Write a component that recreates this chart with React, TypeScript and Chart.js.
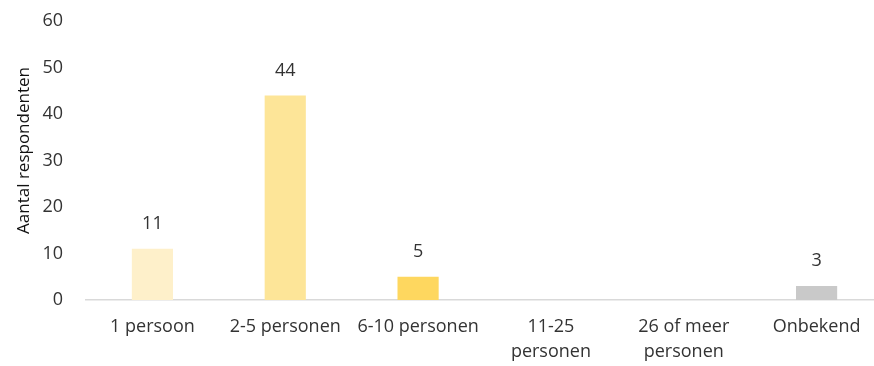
import React, { useEffect, useRef } from "react";
import { Chart, registerables } from "chart.js";

Chart.register(...registerables);

const categories: (string | string[])[] = [
  "1 persoon",
  "2-5 personen",
  "6-10 personen",
  ["11-25", "personen"],
  ["26 of meer", "personen"],
  "Onbekend",
];
const values = [11, 44, 5, 0, 0, 3];
const barColors = ["#FEF0CA", "#FDE598", "#FED75F", "#FED75F", "#FED75F", "#C9C9C9"];
const yTitle = "Aantal respondenten";
const yMin = 0;
const yMax = 60;
const yStep = 10;

const FONT = "'Open Sans', 'DejaVu Sans', sans-serif";
const TEXT = "#333333";

const valueLabels = {
  id: "valueLabels",
  afterDatasetsDraw(chart: any) {
    const ctx = chart.ctx;
    const meta = chart.getDatasetMeta(0);
    ctx.save();
    ctx.font = `18px ${FONT}`;
    ctx.fillStyle = TEXT;
    ctx.textAlign = "center";
    ctx.textBaseline = "middle";
    meta.data.forEach((bar: any, i: number) => {
      const v = values[i];
      if (!v) return;
      ctx.fillText(String(v), bar.x, bar.y - 25);
    });
    ctx.restore();
  },
};

const axisTitle = {
  id: "axisTitle",
  afterDraw(chart: any) {
    const ctx = chart.ctx;
    const area = chart.chartArea;
    ctx.save();
    ctx.font = `17px ${FONT}`;
    ctx.fillStyle = "#111111";
    ctx.textAlign = "center";
    ctx.textBaseline = "middle";
    ctx.translate(24, (area.top + area.bottom) / 2 - 10);
    ctx.rotate(-Math.PI / 2);
    ctx.fillText(yTitle, 0, 0);
    ctx.restore();
  },
};

export default function App() {
  const ref = useRef<HTMLCanvasElement | null>(null);
  useEffect(() => {
    if (!ref.current) return;
    const chart = new Chart(ref.current, {
      type: "bar",
      data: {
        labels: categories,
        datasets: [
          {
            data: values,
            backgroundColor: barColors,
            borderWidth: 0,
            barPercentage: 0.31,
            categoryPercentage: 1,
          },
        ],
      },
      options: {
        animation: false,
        responsive: false,
        maintainAspectRatio: false,
        layout: { padding: { top: 21, right: 7, bottom: 0, left: 0 } },
        plugins: { legend: { display: false }, tooltip: { enabled: false } },
        scales: {
          x: {
            grid: { display: false, drawTicks: false },
            border: { display: true, color: "#D9D9D9", width: 1.5 },
            ticks: {
              color: TEXT,
              font: { family: FONT, size: 18, lineHeight: 25 / 18 },
              padding: 14,
              maxRotation: 0,
              autoSkip: false,
            },
            afterFit: (s: any) => {
              s.height = 66;
            },
          },
          y: {
            min: yMin,
            max: yMax,
            grid: { display: false, drawTicks: false },
            border: { display: false },
            ticks: {
              stepSize: yStep,
              color: TEXT,
              font: { family: FONT, size: 18 },
              padding: 23,
            },
            title: { display: false, text: yTitle },
            afterFit: (s: any) => {
              s.width = 86;
              s.paddingTop = 0;
              s.paddingBottom = 0;
            },
          },
        },
      },
      plugins: [valueLabels, axisTitle],
    });
    return () => chart.destroy();
  }, []);
  return (
    <div
      style={{
        position: "absolute",
        left: 0,
        top: 0,
        width: 874,
        height: 366,
        overflow: "hidden",
        background: "#ffffff",
      }}
    >
      <canvas ref={ref} width={890} height={366} style={{ display: "block" }} />
    </div>
  );
}
